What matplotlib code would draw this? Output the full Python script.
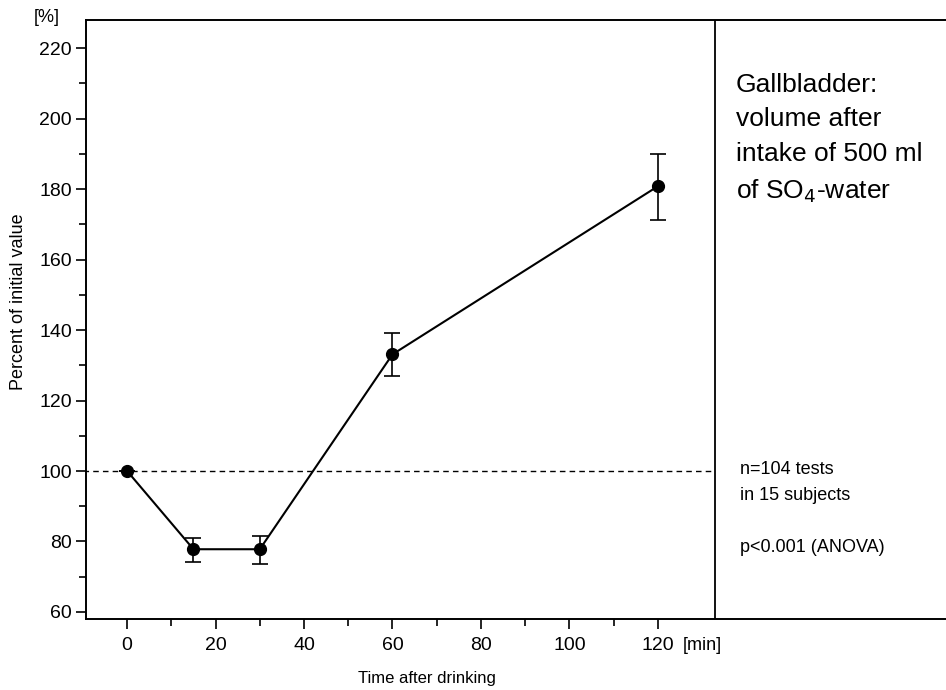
import matplotlib.pyplot as plt
from matplotlib.ticker import MultipleLocator, FixedLocator

plt.rcParams['font.family'] = ['Liberation Sans', 'DejaVu Sans']

# DATA
time_min = [0, 15, 30, 60, 120]
percent = [100, 77.8, 77.8, 133.1, 180.8]
err_low = [0, 3.6, 4.1, 6.2, 9.6]
err_high = [0, 3.3, 3.7, 6.0, 9.2]
x_major = [0, 20, 40, 60, 80, 100, 120]
x_minor = [10, 30, 50, 70, 90, 110]
ref_level = 100
divider_x = 133

fig = plt.figure(figsize=(9.46, 6.9), dpi=100)
ax = fig.add_axes([86 / 946, 1 - 619 / 690, 1 - 86 / 946 + 0.002, (619 - 20) / 690])

# reference line at 100 %
ax.plot([-10, divider_x], [ref_level, ref_level], color='black', linestyle='--',
        linewidth=1.0, dashes=(4, 3))
# separator between plot and text panel
ax.axvline(divider_x, color='black', linewidth=1.3)

# mean curve with error bars
ax.errorbar(time_min, percent, yerr=[err_low, err_high], color='black', linewidth=1.5,
            marker='o', markersize=8.5, capsize=6, elinewidth=1.2, capthick=1.2)

ax.set_xlim(-9.3, 185.6)
ax.set_ylim(58, 228)
ax.xaxis.set_major_locator(FixedLocator(x_major))
ax.xaxis.set_minor_locator(FixedLocator(x_minor))
ax.yaxis.set_major_locator(MultipleLocator(20))
ax.yaxis.set_minor_locator(MultipleLocator(10))
ax.tick_params(which='both', direction='out', width=1.2, labelsize=14)
ax.tick_params(which='major', length=7)
ax.tick_params(which='minor', length=5)
ax.tick_params(axis='x', which='major', pad=6)
ax.tick_params(axis='y', which='major', pad=3)
ax.spines['right'].set_visible(False)
for s in ['left', 'bottom', 'top']:
    ax.spines[s].set_linewidth(1.4)

# labels
fig.text(19 / 946, 1 - 302 / 690, 'Percent of initial value', rotation=90,
         ha='center', va='center', fontsize=13)
fig.text(427 / 946, 1 - 678 / 690, 'Time after drinking', ha='center', va='center', fontsize=12)
fig.text(47 / 946, 1 - 18 / 690, '[%]', ha='center', va='center', fontsize=13)
fig.text(683 / 946, 1 - 645 / 690, '[min]', ha='left', va='center', fontsize=13)

# text panel
fig.text(736 / 946, 1 - 73 / 690,
         'Gallbladder:\nvolume after\nintake of 500 ml\nof SO$_4$-water',
         ha='left', va='top', fontsize=19, linespacing=1.55)
fig.text(740 / 946, 1 - 469 / 690, 'n=104 tests', ha='left', va='center', fontsize=13)
fig.text(740 / 946, 1 - 495 / 690, 'in 15 subjects', ha='left', va='center', fontsize=13)
fig.text(740 / 946, 1 - 548 / 690, 'p<0.001 (ANOVA)', ha='left', va='center', fontsize=13)

fig.savefig('out.png', dpi=100)
